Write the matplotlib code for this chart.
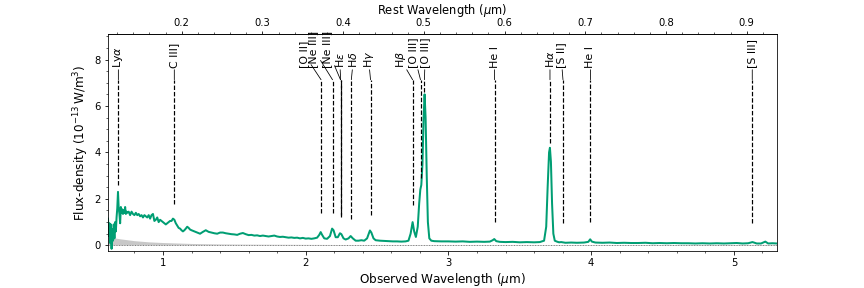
import numpy as np
import matplotlib
matplotlib.use('Agg')
import matplotlib.pyplot as plt
from matplotlib.ticker import AutoMinorLocator

plt.rcParams['font.size'] = 12
plt.rcParams['xtick.labelsize'] = 10
plt.rcParams['ytick.labelsize'] = 10

# redshift used for the rest-frame axis
z = 4.655

# observed spectrum (micron, 1e-13 W/m^3)
wave = [0.615, 0.620, 0.625, 0.630, 0.635, 0.640, 0.645, 0.650, 0.655, 0.660,
        0.665, 0.670, 0.675, 0.680, 0.685, 0.690, 0.695, 0.700, 0.705, 0.710,
        0.715, 0.720, 0.725, 0.730, 0.735, 0.740, 0.745, 0.75, 0.76, 0.77,
        0.78, 0.79, 0.80, 0.81, 0.82, 0.83, 0.84, 0.85, 0.86, 0.87,
        0.88, 0.89, 0.90, 0.91, 0.92, 0.93, 0.94, 0.95, 0.96, 0.97,
        0.98, 0.99, 1.00, 1.01, 1.02, 1.03, 1.04, 1.05, 1.06, 1.07,
        1.08, 1.09, 1.10, 1.11, 1.12, 1.13, 1.14, 1.15, 1.16, 1.17,
        1.18, 1.19, 1.20, 1.22, 1.24, 1.26, 1.28, 1.30, 1.32, 1.34,
        1.36, 1.38, 1.40, 1.42, 1.44, 1.46, 1.48, 1.50, 1.52, 1.54,
        1.56, 1.58, 1.60, 1.62, 1.64, 1.66, 1.68, 1.70, 1.72, 1.74,
        1.76, 1.78, 1.80, 1.82, 1.84, 1.86, 1.88, 1.90, 1.92, 1.94,
        1.96, 1.98, 2.00, 2.02, 2.04, 2.06, 2.08, 2.095, 2.105, 2.115,
        2.13, 2.15, 2.17, 2.185, 2.195, 2.21, 2.225, 2.24, 2.25, 2.265,
        2.28, 2.30, 2.315, 2.33, 2.35, 2.37, 2.39, 2.41, 2.43, 2.45,
        2.46, 2.475, 2.49, 2.52, 2.55, 2.58, 2.61, 2.64, 2.67, 2.70,
        2.72, 2.735, 2.749, 2.76, 2.772, 2.785, 2.795, 2.803, 2.81, 2.818,
        2.826, 2.833, 2.840, 2.848, 2.856, 2.866, 2.88, 2.90, 2.95, 3.00,
        3.05, 3.10, 3.15, 3.20, 3.25, 3.29, 3.31, 3.321, 3.335, 3.36,
        3.40, 3.45, 3.50, 3.55, 3.60, 3.64, 3.67, 3.685, 3.695, 3.705,
        3.711, 3.718, 3.726, 3.735, 3.745, 3.76, 3.775, 3.79, 3.82, 3.86,
        3.90, 3.95, 3.98, 3.993, 4.005, 4.03, 4.08, 4.13, 4.18, 4.23,
        4.28, 4.33, 4.38, 4.43, 4.48, 4.53, 4.58, 4.63, 4.68, 4.73,
        4.78, 4.83, 4.88, 4.93, 4.98, 5.02, 5.06, 5.10, 5.13, 5.16,
        5.19, 5.22, 5.24, 5.27, 5.30]
flux = [1.15, 0.40, 0.95, 0.10, 0.90, -0.15, 0.70, 0.20, 0.90, 0.30,
        1.00, 0.60, 1.20, 1.60, 2.30, 1.60, 1.35, 0.95, 1.65, 1.40,
        1.55, 1.35, 1.50, 1.40, 1.65, 1.35, 1.45, 1.40, 1.45, 1.30,
        1.45, 1.35, 1.30, 1.40, 1.30, 1.35, 1.25, 1.30, 1.20, 1.30,
        1.25, 1.20, 1.30, 1.15, 1.30, 1.35, 1.05, 1.10, 1.20, 1.00,
        1.10, 1.05, 1.00, 0.95, 0.90, 0.95, 1.00, 1.05, 1.05, 1.15,
        1.10, 0.95, 0.85, 0.75, 0.72, 0.65, 0.60, 0.65, 0.72, 0.80,
        0.75, 0.68, 0.65, 0.60, 0.55, 0.50, 0.58, 0.65, 0.58, 0.55,
        0.52, 0.50, 0.55, 0.55, 0.52, 0.50, 0.48, 0.47, 0.45, 0.50,
        0.53, 0.48, 0.44, 0.45, 0.42, 0.43, 0.40, 0.42, 0.40, 0.38,
        0.40, 0.42, 0.38, 0.36, 0.37, 0.35, 0.33, 0.34, 0.32, 0.33,
        0.30, 0.32, 0.29, 0.30, 0.28, 0.30, 0.33, 0.45, 0.57, 0.45,
        0.30, 0.28, 0.40, 0.72, 0.65, 0.35, 0.35, 0.52, 0.48, 0.30,
        0.25, 0.30, 0.40, 0.30, 0.20, 0.20, 0.22, 0.20, 0.30, 0.64,
        0.55, 0.30, 0.22, 0.20, 0.19, 0.18, 0.17, 0.17, 0.16, 0.17,
        0.20, 0.50, 1.00, 0.60, 0.36, 0.80, 1.80, 2.40, 2.60, 3.50,
        5.50, 6.50, 5.50, 3.00, 1.00, 0.30, 0.20, 0.18, 0.17, 0.17,
        0.16, 0.17, 0.15, 0.16, 0.15, 0.16, 0.22, 0.27, 0.18, 0.15,
        0.14, 0.15, 0.13, 0.14, 0.13, 0.14, 0.20, 0.80, 2.50, 4.00,
        4.20, 3.60, 1.80, 0.50, 0.20, 0.16, 0.13, 0.14, 0.11, 0.12,
        0.11, 0.12, 0.15, 0.26, 0.16, 0.12, 0.11, 0.12, 0.10, 0.11,
        0.10, 0.10, 0.11, 0.09, 0.10, 0.09, 0.10, 0.09, 0.09, 0.08,
        0.09, 0.08, 0.09, 0.08, 0.09, 0.10, 0.08, 0.09, 0.14, 0.08,
        0.08, 0.16, 0.08, 0.09, 0.08]

# 1-sigma uncertainty
err_wave = [0.615, 0.66, 0.70, 0.80, 0.90, 1.00, 1.20, 1.40, 1.60, 2.00, 2.50, 3.00, 4.00, 5.30]
err = [0.35, 0.32, 0.28, 0.20, 0.15, 0.12, 0.08, 0.06, 0.05, 0.04, 0.03, 0.03, 0.03, 0.04]

# emission lines
line_names = ['Ly$\\alpha$', 'C III]', '[O II]', '[Ne III]', '[Ne III]', 'H$\\epsilon$',
              'H$\\delta$', 'H$\\gamma$', 'H$\\beta$', '[O III]', '[O III]', 'He I',
              'H$\\alpha$', '[S II]', 'He I', '[S III]']
line_rest = [0.1216, 0.1909, 0.3727, 0.3869, 0.3968, 0.3970, 0.4102, 0.4340,
             0.4861, 0.4959, 0.5007, 0.5876, 0.6563, 0.6724, 0.7065, 0.9069]
line_bottom = [2.6, 1.8, 1.38, 1.4, 1.3, 1.22, 1.12, 1.3,
               1.73, 2.9, 6.6, 1.0, 4.4, 0.95, 1.0, 0.95]
# horizontal shift of the label (points)
label_dx = [0, 0, -17, -19, -13, -1, 2, -2, -12, -7, 1, 0, 0, -2, 0, 0]
line_top = 7.13

green = '#009E73'

fig = plt.figure(figsize=(12, 4), dpi=72)
ax = fig.add_axes([0.125, 0.128, 0.774, 0.754])

ax.fill_between(err_wave, 0, err, color='#c8c8c8', lw=0)
ax.axhline(0, color='0.5', ls=':', lw=1)
ax.plot(wave, flux, color=green, lw=2)

obs = np.array(line_rest) * (1 + z)
ax.vlines(obs, line_bottom, line_top, colors='k', linestyles='--', lw=1.2)
for name, x, dx in zip(line_names, obs, label_dx):
    ax.annotate(name, xy=(x, line_top), xytext=(dx, 12), textcoords='offset points',
                rotation=90, ha='center', va='bottom', fontsize=11,
                arrowprops=dict(arrowstyle='-', color='k', lw=0.8,
                                shrinkA=0, shrinkB=0))

ax.set_xlim(0.615, 5.30)
ax.set_ylim(-0.25, 9.1)
ax.set_yticks([0, 2, 4, 6, 8])
ax.xaxis.set_minor_locator(AutoMinorLocator())
ax.yaxis.set_minor_locator(AutoMinorLocator())
ax.set_xlabel('Observed Wavelength ($\\mu$m)', labelpad=3)
ax.set_ylabel('Flux-density ($10^{-13}\\,$W/m$^3$)')

sec = ax.secondary_xaxis('top', functions=(lambda x: x / (1 + z), lambda x: x * (1 + z)))
sec.set_xticks([0.2, 0.3, 0.4, 0.5, 0.6, 0.7, 0.8, 0.9])
sec.xaxis.set_minor_locator(AutoMinorLocator())
sec.tick_params(axis='x', pad=2.5)
sec.set_xlabel('Rest Wavelength ($\\mu$m)', labelpad=4, fontsize=11.5)

fig.savefig('out.png', dpi=72)
